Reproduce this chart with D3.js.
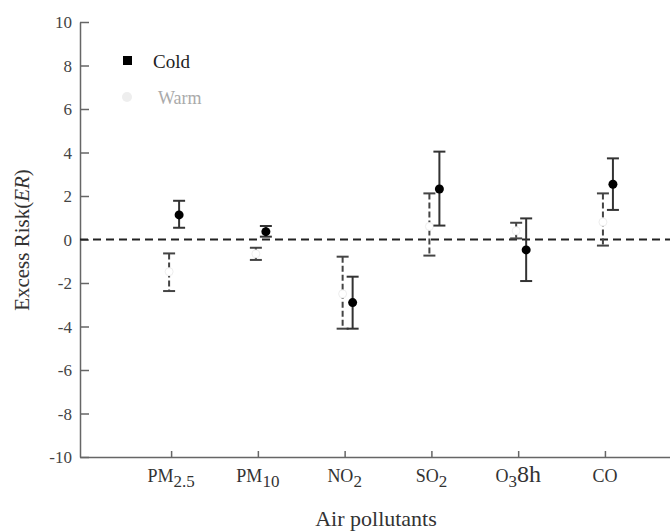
<!DOCTYPE html>
<html>
<head>
	<meta charset="utf-8"/>
	<script src="https://d3js.org/d3.v7.min.js"></script>
	<style>
		body{margin:0;background:#fff;}
	</style>
</head>
<body>
<script>
	// pollutants and their label parts (base, subscript, tail)
	var pollutants = ["PM2.5","PM10","NO2","SO2","O38h","CO"];
	var labelBase = ["PM","PM","NO","SO","O","CO"];
	var labelSub = ["2.5","10","2","2","3",""];
	var labelTail = ["","","","","8h",""];

	// excess risk, cold season
	var coldER = [1.13, 0.36, -2.9, 2.32, -0.48, 2.54];
	var coldLow = [0.54, 0.13, -4.1, 0.64, -1.91, 1.36];
	var coldHigh = [1.78, 0.62, -1.71, 4.04, 0.97, 3.73];

	// excess risk, warm season
	var warmER = [-1.48, -0.66, -2.5, 0.6, 0.4, 0.8];
	var warmLow = [-2.37, -0.94, -4.1, -0.74, 0.05, -0.28];
	var warmHigh = [-0.64, -0.38, -0.79, 2.12, 0.77, 2.12];

	var yTicks = [-10,-8,-6,-4,-2,0,2,4,6,8,10];

	var W = 670, H = 532;
	var FONT = "'Liberation Serif', 'DejaVu Serif', serif";
	var svg = d3.select("body").append("svg")
		.attr("width",W).attr("height",H)
		.attr("font-family",FONT);

	var x = d3.scaleLinear().domain([-0.05,6.75]).range([80,670]);
	var y = d3.scaleLinear().domain([-10,10]).range([457,22]);

	var cold = pollutants.map(function(p,i){return {i:i+1,v:coldER[i],lo:coldLow[i],hi:coldHigh[i],dx:8};});
	var warm = pollutants.map(function(p,i){return {i:i+1,v:warmER[i],lo:warmLow[i],hi:warmHigh[i],dx:-2};});

	// y axis, ticks pointing inward
	var yAxis = svg.append("g").attr("transform","translate(80,0)")
		.call(d3.axisRight(y).tickValues(yTicks).tickSize(9).tickSizeOuter(0).tickFormat(""));
	yAxis.select(".domain").attr("stroke","#666").attr("stroke-width",1.5);
	yAxis.selectAll(".tick line").attr("stroke","#666").attr("stroke-width",1.5);
	svg.selectAll(".ytl").data(yTicks).enter().append("text")
		.attr("x",72).attr("y",function(d){return y(d)+6;})
		.attr("text-anchor","end").attr("font-size",17).attr("fill","#444")
		.attr("font-family",FONT)
		.text(function(d){return d;});

	// x axis
	var xAxis = svg.append("g").attr("transform","translate(0,457)")
		.call(d3.axisTop(x).tickValues([1,2,3,4,5,6]).tickSize(6).tickSizeOuter(0).tickFormat(""));
	xAxis.select(".domain").attr("stroke","#666").attr("stroke-width",1.5);
	xAxis.selectAll(".tick line").attr("stroke","#666").attr("stroke-width",1.5);

	var xl = svg.selectAll(".xtl").data(pollutants).enter().append("text")
		.attr("x",function(d,i){return x(i+1);}).attr("y",482)
		.attr("text-anchor","middle").attr("font-size",18).attr("fill","#333")
		.attr("font-family",FONT);
	xl.append("tspan").text(function(d,i){return labelBase[i];});
	xl.append("tspan").attr("dy",5).attr("font-size",17).text(function(d,i){return labelSub[i];});
	xl.append("tspan").attr("dy",-5).attr("font-size",24).text(function(d,i){return labelTail[i];});

	// zero reference line
	svg.append("line").attr("x1",80).attr("x2",670)
		.attr("y1",y(0)).attr("y2",y(0))
		.attr("stroke","#222").attr("stroke-width",2.2).attr("stroke-dasharray","8,5");

	function drawSeries(data, stroke, dash){
		var g = svg.append("g").selectAll("g").data(data).enter().append("g");
		g.append("line")
			.attr("x1",function(d){return x(d.i)+d.dx;}).attr("x2",function(d){return x(d.i)+d.dx;})
			.attr("y1",function(d){return y(d.hi);}).attr("y2",function(d){return y(d.lo);})
			.attr("stroke",stroke).attr("stroke-width",2).attr("stroke-dasharray",dash);
		["hi","lo"].forEach(function(k){
			g.append("line")
				.attr("x1",function(d){return x(d.i)+d.dx-6;}).attr("x2",function(d){return x(d.i)+d.dx+6;})
				.attr("y1",function(d){return y(d[k]);}).attr("y2",function(d){return y(d[k]);})
				.attr("stroke",stroke).attr("stroke-width",2);
		});
		return g;
	}

	var gw = drawSeries(warm,"#444","6,3");
	gw.append("circle").attr("cx",function(d){return x(d.i)+d.dx;}).attr("cy",function(d){return y(d.v);})
		.attr("r",4).attr("fill","#fff").attr("stroke","#eee");

	var gc = drawSeries(cold,"#333",null);
	gc.append("circle").attr("cx",function(d){return x(d.i)+d.dx;}).attr("cy",function(d){return y(d.v);})
		.attr("r",4.5).attr("fill","#000");

	// legend
	svg.append("rect").attr("x",123).attr("y",56).attr("width",9).attr("height",9).attr("fill","#000");
	svg.append("text").attr("x",153).attr("y",68).attr("font-size",19).attr("fill","#222")
		.attr("font-family",FONT).text("Cold");
	svg.append("circle").attr("cx",127).attr("cy",97).attr("r",5).attr("fill","#eee");
	svg.append("text").attr("x",158).attr("y",104).attr("font-size",18).attr("fill","#aaa")
		.attr("font-family",FONT).text("Warm");

	// axis titles
	svg.append("text").attr("x",376).attr("y",526).attr("text-anchor","middle")
		.attr("font-size",22).attr("fill","#333").attr("font-family",FONT).text("Air pollutants");
	var yt = svg.append("text").attr("transform","translate(29,240) rotate(-90)")
		.attr("text-anchor","middle").attr("font-size",21).attr("fill","#333").attr("font-family",FONT);
	yt.append("tspan").text("Excess Risk(");
	yt.append("tspan").attr("font-style","italic").text("ER");
	yt.append("tspan").text(")");
</script>
</body>
</html>
